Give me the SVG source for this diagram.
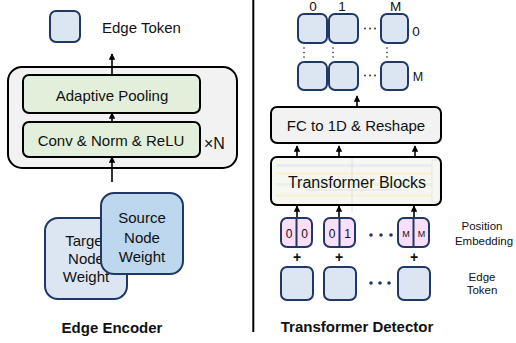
<svg xmlns="http://www.w3.org/2000/svg" width="516" height="343" viewBox="0 0 516 343">
  <defs>
    <marker id="arr" viewBox="0 0 10 10" refX="9" refY="5" markerWidth="4" markerHeight="4" orient="auto">
      <path d="M0,0 L10,5 L0,10 z" fill="#000"/>
    </marker>
    <style>
      text { font-family: "Liberation Sans", Arial, sans-serif; fill: #111; }
      .tok { fill: #dce6f2; stroke: #1f3864; stroke-width: 2; }
      .src { fill: #bdd7ee; stroke: #1f3864; stroke-width: 2; }
      .pos { fill: #fadefa; stroke: #1f3864; stroke-width: 2; }
      .grn { fill: #e2efda; stroke: #000; stroke-width: 2; }
      .gry { fill: #f2f2f2; stroke: #000; stroke-width: 2; }
      .conn { stroke: #000; stroke-width: 1.6; fill: none; marker-end: url(#arr); }
      .lbl { font-size: 15px; text-anchor: middle; }
      .title { font-size: 15px; font-weight: bold; text-anchor: middle; }
      .sm { font-size: 11.5px; text-anchor: middle; }
      .idx { font-size: 13.5px; text-anchor: middle; }
    </style>
  </defs>

  <rect width="516" height="343" fill="#fff"/>

  <!-- panel divider -->
  <line x1="253.3" y1="0" x2="253.3" y2="332" stroke="#000" stroke-width="2"/>

  <!-- ===== Edge Encoder ===== -->
  <g id="legend-token">
    <rect class="tok" x="50" y="11" width="30" height="31" rx="6"/>
    <text x="102" y="33" style="font-size:15px">Edge Token</text>
  </g>

  <g id="encoder-stack">
    <rect class="gry" x="8" y="67" width="229" height="101" rx="14"/>
    <text x="204" y="149" style="font-size:16px">×N</text>
  </g>
  <g id="adaptive-pooling">
    <rect class="grn" x="23" y="75" width="177" height="38" rx="6"/>
    <text class="lbl" x="112" y="101">Adaptive Pooling</text>
  </g>
  <g id="conv-norm-relu">
    <rect class="grn" x="23" y="122" width="177" height="35" rx="6"/>
    <text class="lbl" x="111" y="146">Conv &amp; Norm &amp; ReLU</text>
  </g>

  <g id="target-weight">
    <rect class="tok" x="45" y="218" width="82" height="81" rx="13"/>
    <text class="lbl" x="86" y="246">Target</text>
    <text class="lbl" x="86" y="264">Node</text>
    <text class="lbl" x="86" y="282">Weight</text>
  </g>
  <g id="source-weight">
    <rect class="src" x="101" y="193" width="82" height="81" rx="13"/>
    <text class="lbl" x="142" y="223">Source</text>
    <text class="lbl" x="142" y="243">Node</text>
    <text class="lbl" x="142" y="262">Weight</text>
  </g>

  <text class="title" x="112" y="333">Edge Encoder</text>

  <!-- ===== Transformer Detector ===== -->
  <g id="output-grid">
    <text class="idx" x="313" y="11">0</text>
    <text class="idx" x="342" y="11">1</text>
    <text class="idx" x="395.5" y="11">M</text>
    <rect class="tok" x="298" y="14" width="29" height="29" rx="6"/>
    <rect class="tok" x="329" y="14" width="29" height="29" rx="6"/>
    <rect class="tok" x="381" y="14" width="27" height="29" rx="6"/>
    <rect class="tok" x="298" y="62" width="29" height="28" rx="6"/>
    <rect class="tok" x="329" y="62" width="29" height="28" rx="6"/>
    <rect class="tok" x="381" y="62" width="27" height="28" rx="6"/>
    <text class="idx" x="416" y="36">0</text>
    <text class="idx" x="418" y="81" style="font-size:12.5px">M</text>
    <g fill="#222">
      <circle cx="365" cy="28.5" r="0.9"/><circle cx="370" cy="28.5" r="0.9"/><circle cx="375" cy="28.5" r="0.9"/>
      <circle cx="365" cy="75.5" r="0.9"/><circle cx="370" cy="75.5" r="0.9"/><circle cx="375" cy="75.5" r="0.9"/>
      <circle cx="304" cy="48" r="0.8"/><circle cx="304" cy="52.5" r="0.8"/><circle cx="304" cy="57" r="0.8"/>
      <circle cx="333" cy="48" r="0.8"/><circle cx="333" cy="52.5" r="0.8"/><circle cx="333" cy="57" r="0.8"/>
      <circle cx="387" cy="48" r="0.8"/><circle cx="387" cy="52.5" r="0.8"/><circle cx="387" cy="57" r="0.8"/>
    </g>
  </g>

  <g id="fc-reshape">
    <rect class="gry" x="271" y="107" width="170" height="36" rx="6"/>
    <text class="lbl" x="356" y="131">FC to 1D &amp; Reshape</text>
  </g>

  <g id="transformer-blocks">
    <rect x="271" y="157" width="170" height="48" rx="6" fill="#f7f7f2"/>
    <!-- faded block schematic behind the label -->
    <g opacity="0.55">
      <rect x="276" y="164" width="156" height="3" fill="#dbe5f3"/>
      <rect x="276" y="172" width="156" height="3" fill="#fbefc9"/>
      <rect x="276" y="183" width="156" height="3" fill="#dcefd6"/>
      <rect x="276" y="194" width="156" height="3" fill="#fbefc9"/>
      <line x1="352" y1="158" x2="352" y2="212" stroke="#ccc" stroke-width="1"/>
      <line x1="305" y1="190" x2="395" y2="190" stroke="#ccc" stroke-width="1"/>
      <rect x="432" y="160" width="8" height="42" fill="none" stroke="#ddd" stroke-width="1"/>
    </g>
    <rect x="271" y="157" width="170" height="48" rx="6" fill="none" stroke="#000" stroke-width="2"/>
    <text class="lbl" x="357" y="188" style="font-size:16px">Transformer Blocks</text>
  </g>

  <g id="position-embedding">
    <rect class="pos" x="281" y="218" width="31" height="29" rx="6"/>
    <line x1="296.5" y1="218" x2="296.5" y2="247" stroke="#1f3864" stroke-width="2"/>
    <text x="289" y="238" style="font-size:12px" text-anchor="middle">0</text>
    <text x="304.5" y="238" style="font-size:12px" text-anchor="middle">0</text>
    <rect class="pos" x="324" y="218" width="31" height="29" rx="6"/>
    <line x1="339.5" y1="218" x2="339.5" y2="247" stroke="#1f3864" stroke-width="2"/>
    <text x="332" y="238" style="font-size:12px" text-anchor="middle">0</text>
    <text x="347.5" y="238" style="font-size:12px" text-anchor="middle">1</text>
    <rect class="pos" x="398" y="218" width="31" height="29" rx="6"/>
    <line x1="413.5" y1="218" x2="413.5" y2="247" stroke="#1f3864" stroke-width="2"/>
    <text x="406" y="237" style="font-size:9px" text-anchor="middle">M</text>
    <text x="421.5" y="237" style="font-size:9px" text-anchor="middle">M</text>
    <g fill="#1f3864">
      <circle cx="371" cy="235" r="1.8"/><circle cx="381" cy="235" r="1.8"/><circle cx="391" cy="235" r="1.8"/>
    </g>
    <text class="sm" x="482" y="230">Position</text>
    <text class="sm" x="484" y="245">Embedding</text>
  </g>

  <g id="plus-signs">
    <text x="297" y="262" style="font-size:14px;font-weight:bold" text-anchor="middle">+</text>
    <text x="339" y="262" style="font-size:14px;font-weight:bold" text-anchor="middle">+</text>
    <text x="414" y="262" style="font-size:14px;font-weight:bold" text-anchor="middle">+</text>
  </g>

  <g id="edge-tokens">
    <rect class="tok" x="281" y="267" width="32" height="33" rx="6"/>
    <rect class="tok" x="324" y="267" width="32" height="33" rx="6"/>
    <rect class="tok" x="398" y="267" width="32" height="33" rx="6"/>
    <g fill="#1f3864">
      <circle cx="371" cy="283" r="1.8"/><circle cx="380" cy="283" r="1.8"/><circle cx="389" cy="283" r="1.8"/>
    </g>
    <text class="sm" x="482" y="281">Edge</text>
    <text class="sm" x="482" y="294">Token</text>
  </g>

  <text class="title" x="357" y="332">Transformer Detector</text>

  <!-- ===== connectors ===== -->
  <g id="connectors">
    <line class="conn" x1="112" y1="76" x2="112" y2="54"/>
    <line class="conn" x1="112" y1="122" x2="112" y2="113"/>
    <line class="conn" x1="112" y1="182" x2="112" y2="157"/>
    <line class="conn" x1="357" y1="106" x2="357" y2="96"/>
    <line class="conn" x1="297" y1="156" x2="297" y2="146"/>
    <line class="conn" x1="339" y1="156" x2="339" y2="146"/>
    <line class="conn" x1="415" y1="156" x2="415" y2="146"/>
    <line class="conn" x1="297" y1="217" x2="297" y2="206"/>
    <line class="conn" x1="339" y1="217" x2="339" y2="206"/>
    <line class="conn" x1="414" y1="217" x2="414" y2="206"/>
  </g>
</svg>
